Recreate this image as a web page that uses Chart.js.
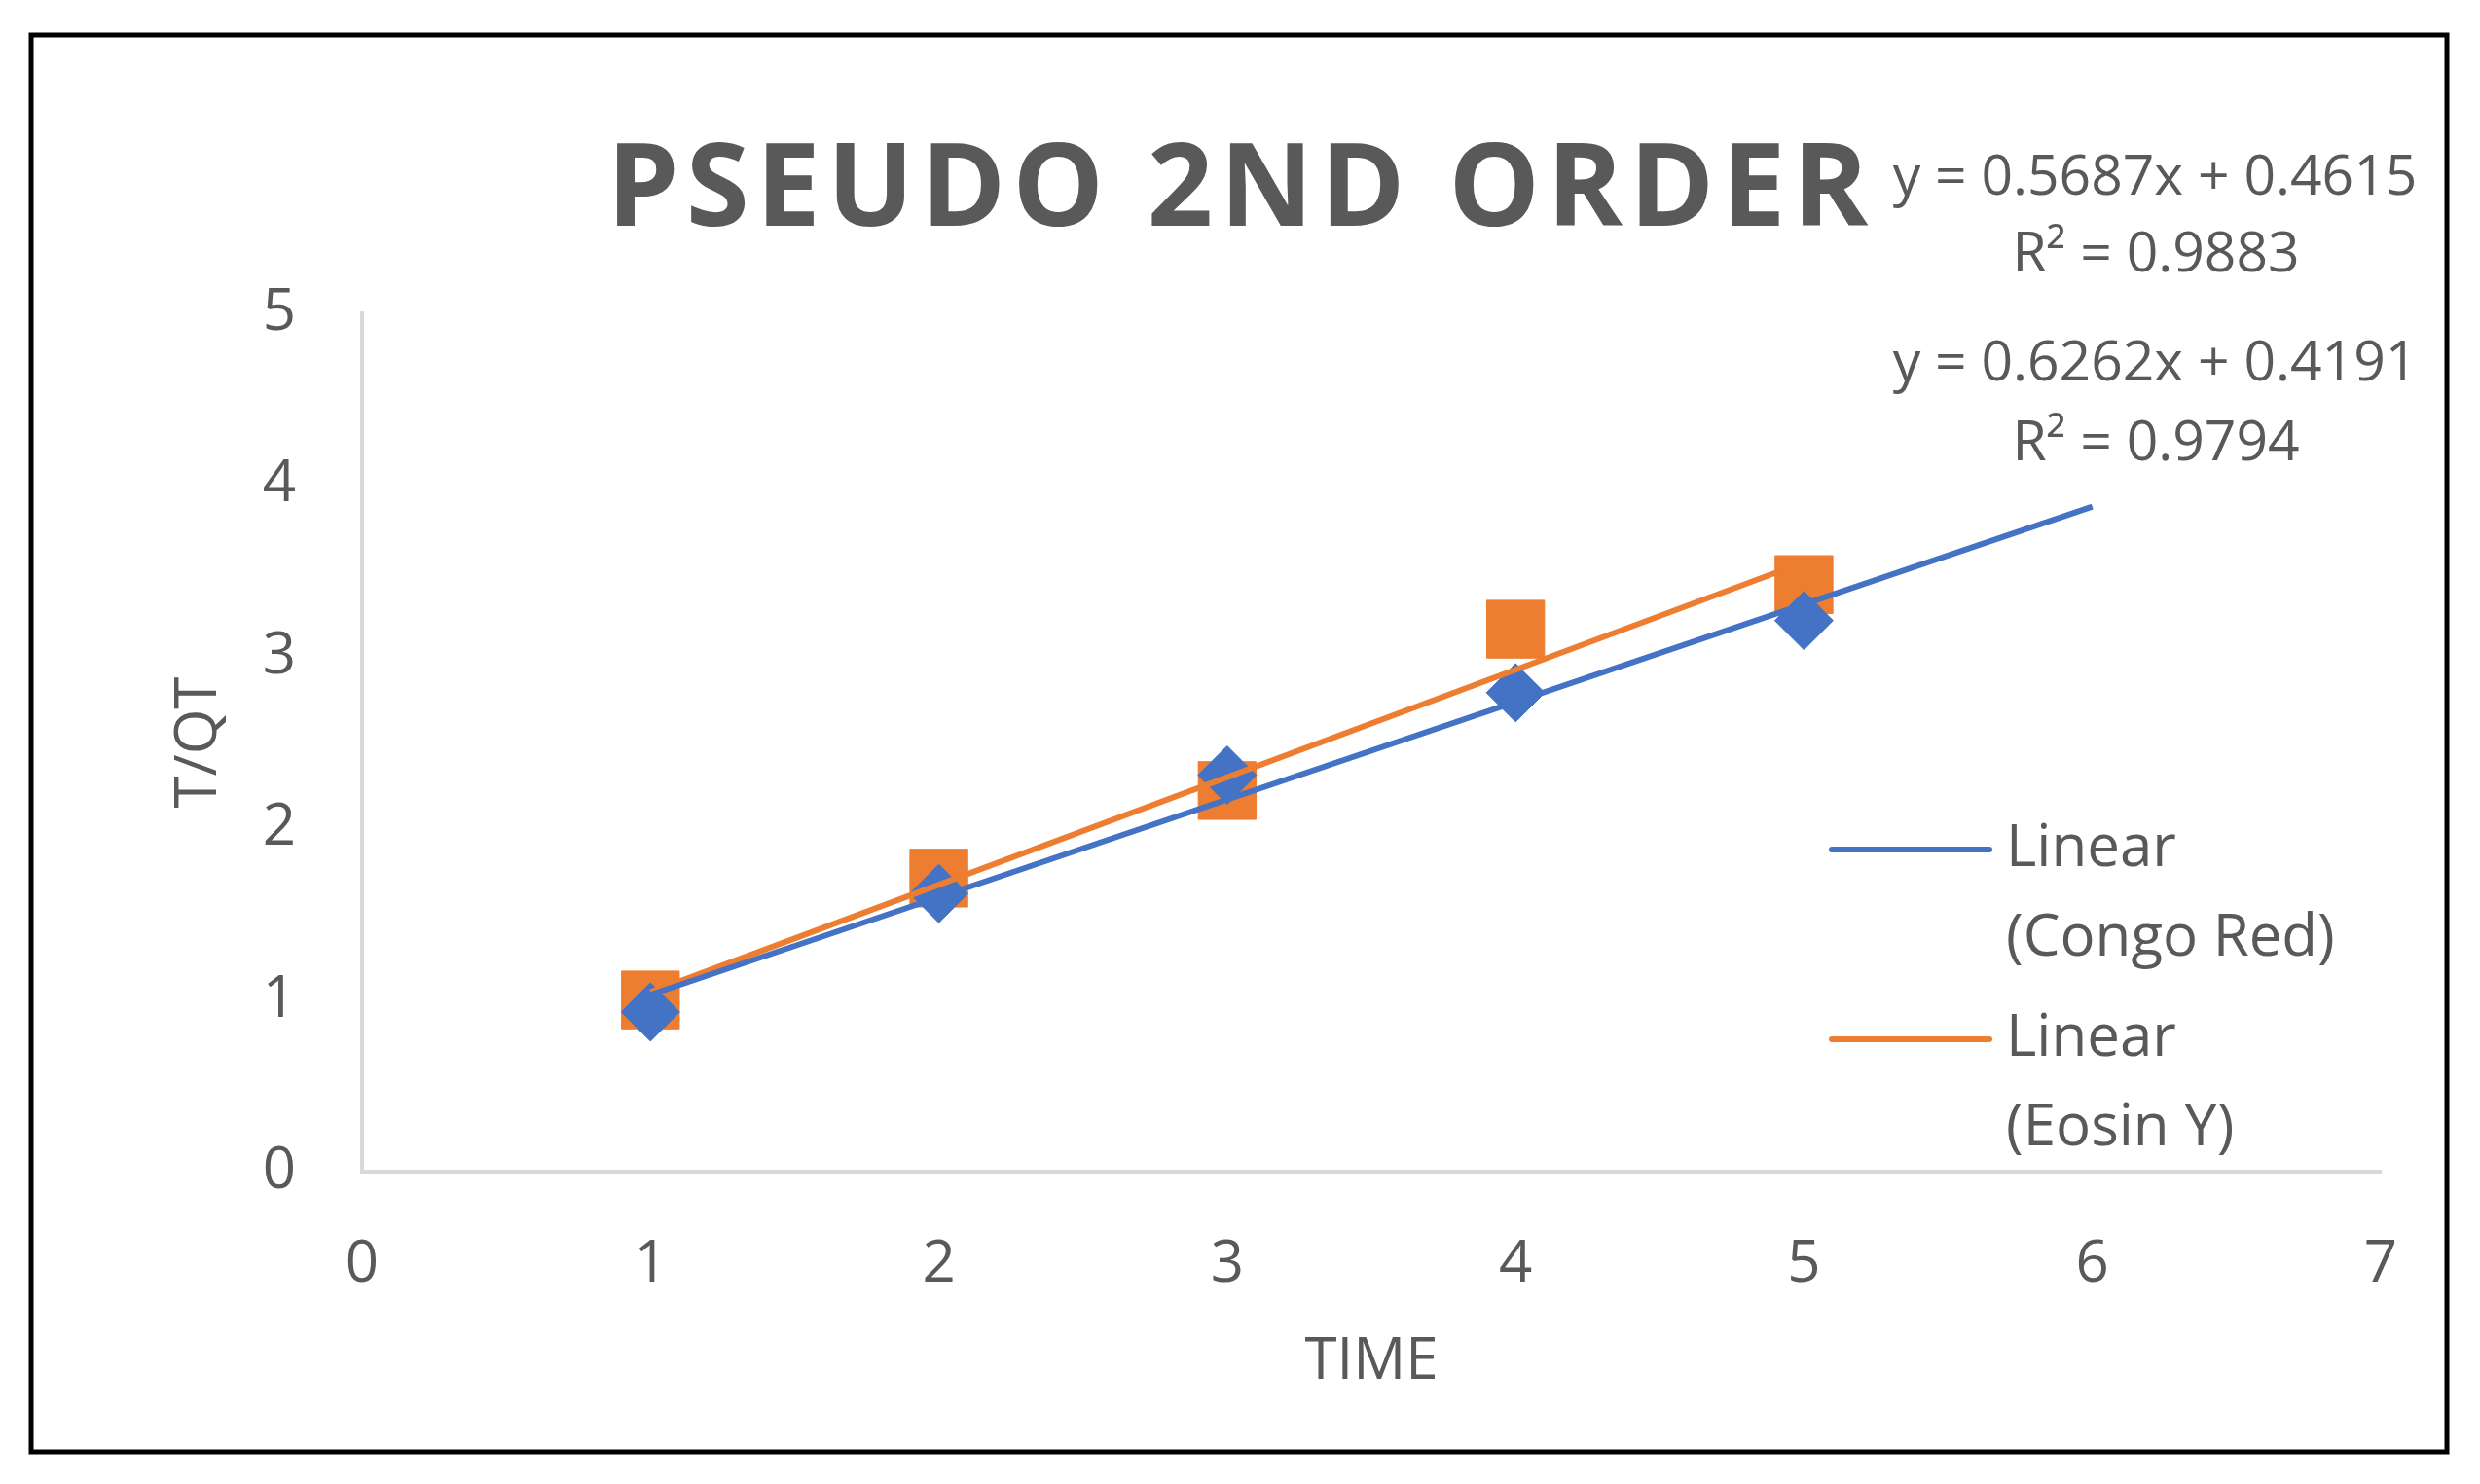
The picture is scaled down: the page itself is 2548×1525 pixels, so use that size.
<!DOCTYPE html>
<html>
<head>
<meta charset="utf-8">
<script src="https://cdn.jsdelivr.net/npm/chart.js@4"></script>
<style>
  html, body { margin: 0; padding: 0; background: #fff; }
  #wrap { width: 2548px; height: 1525px; }
</style>
</head>
<body>
<div id="wrap"><canvas id="chart"></canvas></div>
<script>
const times = [1, 2, 3, 4, 5];
const congoRed = [0.93, 1.62, 2.31, 2.79, 3.21];
const eosinY = [1.0, 1.71, 2.22, 3.16, 3.42];

// trendline coefficients as printed on the chart
const congoFit = { slope: 0.5687, intercept: 0.4615, r2: '0.9883', xEnd: 6 };
const eosinFit = { slope: 0.6262, intercept: 0.4191, r2: '0.9794', xEnd: 5 };

const xTicks = [0, 1, 2, 3, 4, 5, 6, 7];
const yTicks = [0, 1, 2, 3, 4, 5];

const BLUE = '#4472c4';
const ORANGE = '#ed7d31';
const GRAY = '#595959';
const FONT = '"Open Sans", "Liberation Sans", sans-serif';

function fitLine(fit) {
  return [1, fit.xEnd].map(x => ({ x: x, y: fit.slope * x + fit.intercept }));
}

const decorations = {
  id: 'decorations',
  afterDraw(chart) {
    const ctx = chart.ctx;
    ctx.save();
    // outer frame
    ctx.strokeStyle = '#000';
    ctx.lineWidth = 5;
    ctx.strokeRect(32, 36, 2482, 1456);

    // title
    ctx.fillStyle = GRAY;
    ctx.textAlign = 'center';
    ctx.textBaseline = 'middle';
    ctx.font = 'bold 118px ' + FONT;
    ctx.letterSpacing = '7px';
    ctx.fillText('PSEUDO 2ND ORDER', 1275, 198);
    ctx.letterSpacing = '0px';

    // equations
    ctx.font = '57px ' + FONT;
    ctx.fillText('y = ' + congoFit.slope + 'x + ' + congoFit.intercept, 2214, 184);
    ctx.fillText('R² = ' + congoFit.r2, 2215, 263);
    ctx.fillText('y = ' + eosinFit.slope + 'x + ' + eosinFit.intercept, 2214, 375);
    ctx.fillText('R² = ' + eosinFit.r2, 2215, 457);

    // legend
    ctx.textAlign = 'left';
    ctx.font = '60px ' + FONT;
    ctx.lineWidth = 6;
    ctx.lineCap = 'round';
    [[BLUE, 873, '(Congo Red)'], [ORANGE, 1068, '(Eosin Y)']].forEach(([c, y, label]) => {
      ctx.strokeStyle = c;
      ctx.beginPath();
      ctx.moveTo(1882, y);
      ctx.lineTo(2044, y);
      ctx.stroke();
      ctx.fillText('Linear', 2061, y);
      ctx.fillText(label, 2061, y + 92);
    });
    ctx.restore();
  }
};

new Chart(document.getElementById('chart'), {
  type: 'scatter',
  data: {
    datasets: [
      {
        label: 'Congo Red',
        data: times.map((t, i) => ({ x: t, y: congoRed[i] })),
        backgroundColor: BLUE,
        borderColor: BLUE,
        pointStyle: 'rectRot',
        pointRadius: 30,
        order: 2
      },
      {
        label: 'Eosin Y',
        data: times.map((t, i) => ({ x: t, y: eosinY[i] })),
        backgroundColor: ORANGE,
        borderColor: ORANGE,
        pointStyle: 'rect',
        pointRadius: 42,
        order: 2
      },
      {
        label: 'Linear (Congo Red)',
        type: 'line',
        data: fitLine(congoFit),
        borderColor: BLUE,
        borderWidth: 6,
        pointRadius: 0,
        order: 0
      },
      {
        label: 'Linear (Eosin Y)',
        type: 'line',
        data: fitLine(eosinFit),
        borderColor: ORANGE,
        borderWidth: 6,
        pointRadius: 0,
        order: 0
      }
    ]
  },
  options: {
    responsive: true,
    maintainAspectRatio: false,
    animation: false,
    layout: { padding: { top: 322, left: 165, right: 102, bottom: 85 } },
    scales: {
      x: {
        type: 'linear',
        min: 0,
        max: 7,
        afterBuildTicks: s => { s.ticks = xTicks.map(v => ({ value: v })); },
        afterFit: s => { s.height = 236; },
        grid: { display: false },
        border: { color: '#d9d9d9', width: 4 },
        ticks: { color: GRAY, font: { size: 60, family: FONT }, padding: 52 },
        title: { display: true, text: 'TIME', color: GRAY, font: { size: 60, family: FONT }, padding: { top: 36 } }
      },
      y: {
        min: 0,
        max: 5,
        afterBuildTicks: s => { s.ticks = yTicks.map(v => ({ value: v })); },
        afterFit: s => { s.width = 207; },
        grid: { display: false },
        border: { color: '#d9d9d9', width: 4 },
        ticks: { color: GRAY, font: { size: 60, family: FONT }, padding: 60 },
        title: { display: true, text: 'T/QT', color: GRAY, font: { size: 60, family: FONT }, padding: { bottom: 10 } }
      }
    },
    plugins: {
      legend: { display: false },
      tooltip: { enabled: false }
    }
  },
  plugins: [decorations]
});
</script>
</body>
</html>
